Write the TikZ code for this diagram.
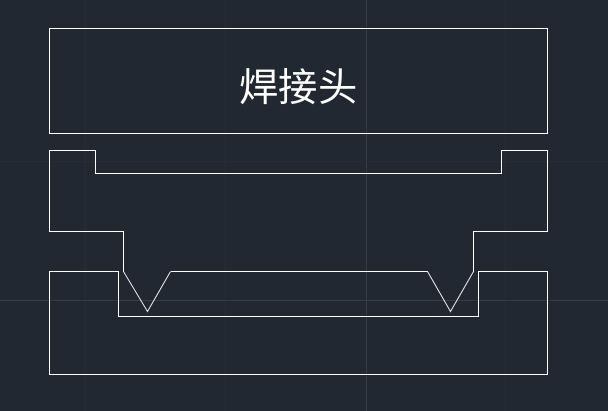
\documentclass[tikz,border=0pt]{standalone}
\usepackage{fontspec}
\newfontfamily\cjk{Noto Sans CJK SC}
\definecolor{canvas}{HTML}{222831}
\definecolor{gridminor}{HTML}{262C35}
\definecolor{gridmajor}{HTML}{363D47}
\pgfdeclarelayer{edgelayer}
\pgfdeclarelayer{nodelayer}
\pgfsetlayers{edgelayer,main,nodelayer}
\tikzstyle{none}=[inner sep=0pt]
\tikzstyle{thiny}=[-,draw=gridminor,line width=0.75pt]
\tikzstyle{axe}=[-,draw=gridmajor,line width=0.75pt]
\tikzstyle{outline}=[-,draw=white,line width=0.75pt,line join=miter]
\tikzstyle{groove}=[-,draw=white!85!canvas,line width=0.7pt]
\tikzstyle{title}=[inner sep=0pt,text=white,font=\cjk\fontsize{29.5}{30}\selectfont]
\begin{document}
\begin{tikzpicture}[x=0.75pt,y=-0.75pt]
	\useasboundingbox (0.000,0.000) rectangle (608.000,411.000);
	\begin{pgfonlayer}{edgelayer}
		\fill [canvas] (0.000,0.000) rectangle (608.000,411.000);
		\foreach \gx in {85,225,505}
			\draw [style=thiny] (\gx,0.000) to (\gx,411.000);
		\draw [style=axe] (366.000,0.000) to (366.000,411.000);
		\draw [style=thiny] (0.000,161.000) to (608.000,161.000);
		\draw [style=axe] (0.000,300.500) to (608.000,300.500);
	\end{pgfonlayer}
	\begin{pgfonlayer}{nodelayer}
		\node [style=title] (head) at (298.500,87.000) {焊接头};
	\end{pgfonlayer}
	% welding head
	\draw [style=outline] (49.500,28.500) rectangle (547.500,133.000);
	% upper part
	\draw [style=outline] (123.500,271.500) -- (123.500,231.500) -- (49.500,231.500) -- (49.500,150.500)
		-- (95.500,150.500) -- (95.500,173.500) -- (501.500,173.500) -- (501.500,150.500)
		-- (547.500,150.500) -- (547.500,231.500) -- (473.500,231.500) -- (473.500,271.500);
	% lower part
	\draw [style=outline] (49.500,271.500) -- (118.500,271.500) -- (118.500,316.500) -- (478.500,316.500)
		-- (478.500,271.500) -- (547.500,271.500) -- (547.500,374.500) -- (49.500,374.500) -- cycle;
	\draw [style=outline] (170.500,271.500) -- (427.500,271.500);
	% energy directors
	\draw [style=groove] (123.500,271.500) -- (147.500,311.500) -- (170.500,271.500);
	\draw [style=groove] (427.500,271.500) -- (450.500,311.500) -- (473.500,271.500);
\end{tikzpicture}
\end{document}
